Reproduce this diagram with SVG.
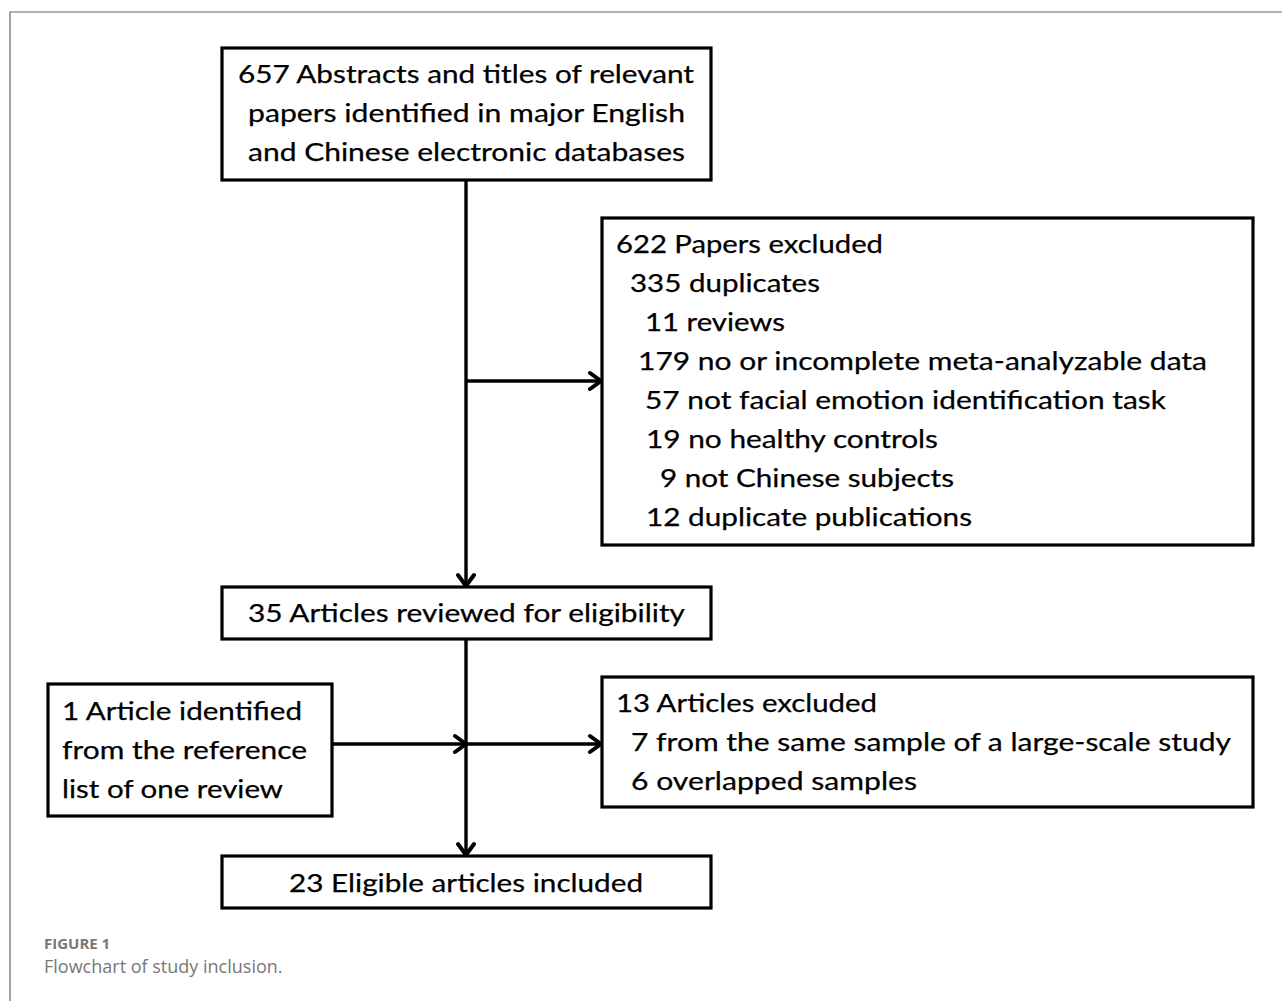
<svg xmlns="http://www.w3.org/2000/svg" width="1282" height="1001" viewBox="0 0 1282 1001">
<defs>
<style>
.box{fill:#fff;stroke:#000;stroke-width:3.2}
.t{font-family:Lato,"Liberation Sans",sans-serif;font-size:25.5px;fill:#000;stroke:#000;stroke-width:0.25}
.ln{stroke:#000;stroke-width:3.4;fill:none}
.cap1{font-family:"Open Sans","Noto Sans",sans-serif;font-size:15px;font-weight:bold;fill:#777}
.cap2{font-family:"Open Sans","Noto Sans",sans-serif;font-size:18px;fill:#777}
</style>
<marker id="arr" viewBox="0 0 16 22" refX="14" refY="11" markerWidth="16" markerHeight="22" markerUnits="userSpaceOnUse" orient="auto">
<path d="M3,3 L14,11 L3,19" fill="none" stroke="#000" stroke-width="4" stroke-linecap="round" stroke-linejoin="miter"/>
</marker>
</defs>
<rect width="1282" height="1001" fill="#fff"/>
<path d="M10,1001 V12 H1282" fill="none" stroke="#666" stroke-width="1.2"/>

<g id="connectors">
<line class="ln" x1="466" y1="180" x2="466" y2="586" marker-end="url(#arr)"/>
<line class="ln" x1="466" y1="381" x2="601" y2="381" marker-end="url(#arr)"/>
<line class="ln" x1="466" y1="639" x2="466" y2="855" marker-end="url(#arr)"/>
<line class="ln" x1="332" y1="744" x2="466" y2="744" marker-end="url(#arr)"/>
<line class="ln" x1="466" y1="744" x2="601" y2="744" marker-end="url(#arr)"/>
</g>

<g id="identified">
<rect class="box" x="222" y="48" width="489" height="132"/>
<text class="t" x="238" y="83" textLength="456" lengthAdjust="spacingAndGlyphs">657 Abstracts and titles of relevant</text>
<text class="t" x="248" y="122" textLength="437" lengthAdjust="spacingAndGlyphs">papers identified in major English</text>
<text class="t" x="248" y="161" textLength="437" lengthAdjust="spacingAndGlyphs">and Chinese electronic databases</text>
</g>

<g id="excluded1">
<rect class="box" x="602" y="218" width="651" height="327"/>
<text class="t" x="616" y="253" textLength="267" lengthAdjust="spacingAndGlyphs">622 Papers excluded</text>
<text class="t" x="630" y="292" textLength="190" lengthAdjust="spacingAndGlyphs">335 duplicates</text>
<text class="t" x="645" y="331" textLength="140" lengthAdjust="spacingAndGlyphs">11 reviews</text>
<text class="t" x="638" y="370" textLength="569" lengthAdjust="spacingAndGlyphs">179 no or incomplete meta-analyzable data</text>
<text class="t" x="645" y="409" textLength="521" lengthAdjust="spacingAndGlyphs">57 not facial emotion identification task</text>
<text class="t" x="646" y="448" textLength="292" lengthAdjust="spacingAndGlyphs">19 no healthy controls</text>
<text class="t" x="660" y="487" textLength="294" lengthAdjust="spacingAndGlyphs">9 not Chinese subjects</text>
<text class="t" x="646" y="526" textLength="326" lengthAdjust="spacingAndGlyphs">12 duplicate publications</text>
</g>

<g id="reviewed">
<rect class="box" x="222" y="587" width="489" height="52"/>
<text class="t" x="248" y="622" textLength="437" lengthAdjust="spacingAndGlyphs">35 Articles reviewed for eligibility</text>
</g>

<g id="additional">
<rect class="box" x="48" y="684" width="284" height="132"/>
<text class="t" x="62" y="720" textLength="240" lengthAdjust="spacingAndGlyphs">1 Article identified</text>
<text class="t" x="62" y="759" textLength="245" lengthAdjust="spacingAndGlyphs">from the reference</text>
<text class="t" x="62" y="798" textLength="221" lengthAdjust="spacingAndGlyphs">list of one review</text>
</g>

<g id="excluded2">
<rect class="box" x="602" y="677" width="651" height="130"/>
<text class="t" x="616" y="712" textLength="261" lengthAdjust="spacingAndGlyphs">13 Articles excluded</text>
<text class="t" x="631" y="751" textLength="600" lengthAdjust="spacingAndGlyphs">7 from the same sample of a large-scale study</text>
<text class="t" x="631" y="790" textLength="286" lengthAdjust="spacingAndGlyphs">6 overlapped samples</text>
</g>

<g id="included">
<rect class="box" x="222" y="856" width="489" height="52"/>
<text class="t" x="289" y="892" textLength="354" lengthAdjust="spacingAndGlyphs">23 Eligible articles included</text>
</g>

<g id="caption">
<text class="cap1" x="44" y="949">FIGURE 1</text>
<text class="cap2" x="44" y="973">Flowchart of study inclusion.</text>
</g>
</svg>
